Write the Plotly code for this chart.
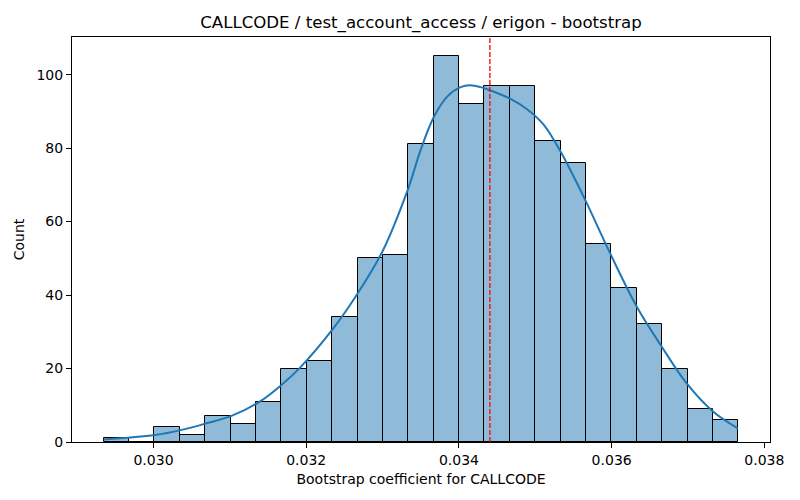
import numpy as np
import plotly.graph_objects as go

# histogram (25 equal bins)
BIN_START = 0.029348
BIN_END = 0.037658
COUNTS = [1, 0, 4, 2, 7, 5, 11, 20, 22, 34, 50, 51, 81, 105, 92,
          97, 97, 82, 76, 54, 42, 32, 20, 9, 6]

# kde curve (scaled to counts), read point by point
KDE_X = [0.029348, 0.030021, 0.030369, 0.030695, 0.031021, 0.031391, 0.031674,
         0.031913, 0.032339, 0.032675, 0.033001, 0.033327, 0.033500,
         0.033674, 0.033849, 0.034022, 0.034143, 0.034283, 0.034414, 0.034675,
         0.034892, 0.035109, 0.035327, 0.035653, 0.035979, 0.036327, 0.036654,
         0.036980, 0.037327, 0.037653]
KDE_Y = [0.7, 1.9, 3.3, 5.1, 7.1, 11.0, 15.5, 20.1, 30.5, 40.5, 52.0,
         68.5, 79.6, 88.6, 94.1, 96.6, 97.1, 96.6, 95.7, 93.4, 90.6, 86.4,
         79.2, 65.9, 51.4, 36.9, 26.0, 16.0, 8.3, 3.7]

MEAN_VALUE = 0.034405
X_TICKS = [0.030, 0.032, 0.034, 0.036, 0.038]
Y_TICKS = [0, 20, 40, 60, 80, 100]

TITLE = "CALLCODE / test_account_access / erigon - bootstrap"
X_LABEL = "Bootstrap coefficient for CALLCODE"
Y_LABEL = "Count"

FONT = "DejaVu Sans"
BLUE = "#1f77b4"

# the page body adds an 8px offset, so margins are shifted to compensate
PAGE_OFFSET = 8


def main():
  edges = np.linspace(BIN_START, BIN_END, len(COUNTS) + 1)
  centers = (edges[:-1] + edges[1:]) / 2
  width = edges[1] - edges[0]

  fig = go.Figure()
  fig.add_trace(go.Bar(
    x=centers, y=COUNTS, width=width,
    marker=dict(color="rgba(31,119,180,0.5)", line=dict(color="black", width=1)),
    showlegend=False, hoverinfo="x+y",
  ))
  fig.add_trace(go.Scatter(
    x=KDE_X, y=KDE_Y, mode="lines",
    line=dict(color=BLUE, width=2, shape="spline", smoothing=1.0),
    showlegend=False,
  ))

  # mean marker
  fig.add_shape(type="line", x0=MEAN_VALUE, x1=MEAN_VALUE, xref="x", y0=0, y1=1, yref="paper",
                line=dict(color="red", width=1.3, dash="5px,2px"))

  span = BIN_END - BIN_START
  ymax = max(COUNTS) * 1.05

  fig.update_layout(
    width=800, height=500,
    margin=dict(l=72 - PAGE_OFFSET, r=30 + PAGE_OFFSET, t=37 - PAGE_OFFSET, b=58 + PAGE_OFFSET),
    paper_bgcolor="white", plot_bgcolor="white",
    font=dict(family=FONT, size=14, color="black"),
    bargap=0,
    title=dict(text=TITLE, x=0.5, xref="paper", y=1 - (22 - PAGE_OFFSET) / 500, yref="container",
               yanchor="middle", font=dict(size=16.6, family=FONT, color="black")),
  )
  fig.update_xaxes(
    range=[BIN_START - 0.05 * span, BIN_END + 0.05 * span],
    tickvals=X_TICKS, tickformat=".3f", automargin=False,
    showline=True, linecolor="black", linewidth=1, mirror=True,
    ticks="outside", ticklen=5, tickcolor="black", showgrid=False, zeroline=False,
    title=dict(text=X_LABEL, standoff=7, font=dict(size=14)),
    tickfont=dict(size=14),
  )
  fig.update_yaxes(
    range=[0, ymax], tickvals=Y_TICKS, automargin=False,
    showline=True, linecolor="black", linewidth=1, mirror=True,
    ticks="outside", ticklen=5, tickcolor="black", showgrid=False, zeroline=False,
    title=dict(text=Y_LABEL, standoff=8, font=dict(size=14)),
    tickfont=dict(size=14),
  )

  fig.write_html("out.html")


if __name__ == "__main__":
  main()
